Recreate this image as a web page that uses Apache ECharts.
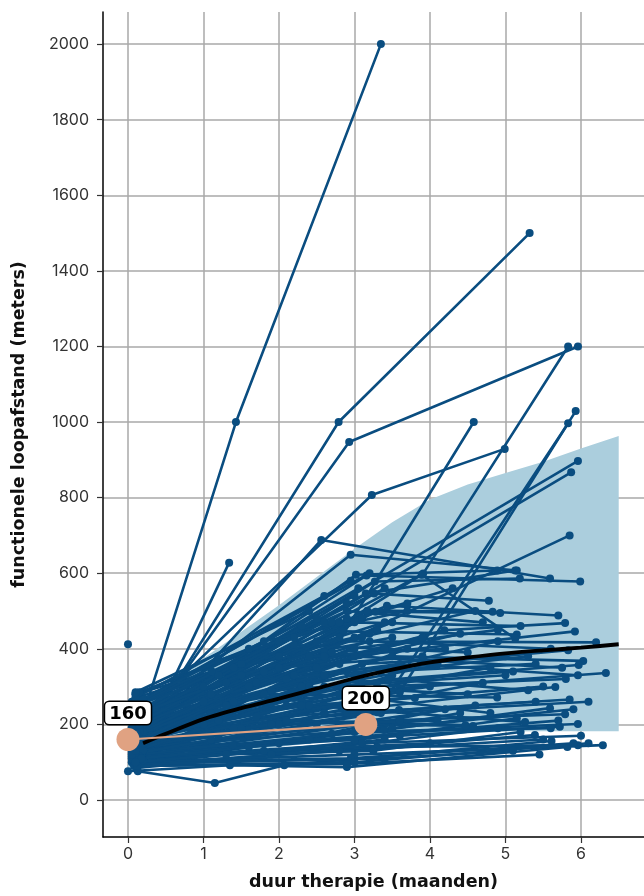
<!DOCTYPE html>
<html>
<head>
<meta charset="utf-8">
<script src="https://cdn.jsdelivr.net/npm/echarts@6/dist/echarts.min.js"></script>
<style>
  html, body { margin: 0; padding: 0; background: #fff; }
  #chart { width: 644px; height: 896px; }
</style>
</head>
<body>
<div id="chart"></div>
<script>
// Per-patient walking distance measurements: visit month and metres.
// Index i in every array belongs to the same patient; null = no such visit.
const visit0Month = [0.08,0.15,0.07,0.10,0.05,0.15,0.10,0.10,0.20,0.10, 0.15,0.10,0.15,0.10,0.10,0.00,0.12,0.05,0.18,0.10, 0.20,0.10,0.15,0.10,0.05,0.10,0.20,0.10,0.15,0.10, 0.05,0.12,0.18,0.10,0.20,0.10,0.15,0.05,0.10,0.20, 0.10,0.15,0.10,0.05,0.10,0.12,0.00,0.13,0.10,0.08, 0.10,0.10,0.15,0.10,0.05,0.20,0.10,0.15,0.10,0.05, 0.12,0.10,0.18,0.10,0.05,0.15,0.10,0.20,0.10,0.08, 0.15,0.10,0.05,0.10,0.20,0.12,0.10,0.15,0.10,0.05, 0.10,0.15,0.05,0.10,0.20,0.10,0.12,0.08,0.15,0.10, 0.05,0.10,0.18,0.10,0.15,0.10,0.05,0.12,0.10,0.20, 0.10,0.15,0.05,0.10,0.12,0.10,0.15,0.05,0.10,0.18, 0.10,0.12,0.05,0.15,0.10,0.10,0.20,0.10,0.05,0.15, 0.10,0.15,0.05,0.10,0.20,0.10,0.12,0.05,0.15,0.10, 0.10,0.18,0.05,0.10,0.15,0.10,0.05,0.12,0.10,0.20];
const visit0Meters = [150,155,150,210,130,130,200,190,170,160, 140,205,190,160,200,412,180,170,220,150, 240,120,175,230,160,200,140,250,110,185, 145,210,130,95,160,175,120,100,140,190, 90,105,130,115,95,85,76,76,110,100, 280,250,220,180,260,200,170,150,230,190, 140,210,120,160,240,100,135,180,270,200, 150,115,220,260,130,195,95,285,240,175, 120,140,110,100,130,150,170,90,115,200, 180,160,145,125,95,210,235,185,140,105, 250,195,125,175,90,155,215,135,190,110, 260,225,205,165,280,100,150,230,120,185, 220,180,250,200,160,270,230,190,240,210, 170,260,150,285,200,130,245,175,225,265];
const visit1Month = [1.43,2.79,2.93,3.23,2.56,1.34,2.95,3.91,2.30,3.60, 3.30,5.96,5.87,3.00,3.16,null,3.02,3.27,3.15,3.26, 3.43,3.17,3.28,4.19,3.06,2.85,3.89,2.50,2.20,3.50, 2.90,4.09,3.20,2.60,1.80,3.59,3.39,2.00,3.00,2.40, 1.39,2.70,2.10,3.10,2.80,1.90,1.35,1.15,3.30,3.00, 1.11,1.20,2.20,1.60,2.00,1.00,1.50,2.30,1.30,2.50, 1.70,2.80,1.40,1.00,1.80,2.00,1.20,2.60,1.50,2.10, 1.10,2.40,3.00,2.20,1.60,1.90,1.30,2.00,1.00,1.40, 3.00,2.90,3.10,2.95,3.20,3.05,3.30,3.00,3.25,3.10, 2.95,3.35,3.15,2.85,3.40,3.00,3.20,3.45,3.50,2.75, 2.90,3.00,3.35,3.10,2.90,1.20,1.10,1.50,1.70,1.60, 1.40,2.10,1.30,2.30,1.60,1.80,1.90,2.40,1.10,2.60, 3.05,2.90,3.20,2.70,3.10,2.60,3.30,2.80,3.40,2.50, 3.00,2.95,2.60,2.40,3.50,2.20,1.80,2.00,1.50,1.20];
const visit1Meters = [1000,1000,947,807,688,628,649,599,260,285, 232,897,867,430,594,null,596,578,546,546, 514,501,498,449,383,446,596,420,330,380, 310,356,290,230,280,238,185,200,158,250, 145,175,210,200,130,120,92,45,140,120, 340,330,430,300,380,260,240,300,310,350, 220,280,190,200,340,150,170,230,360,250, 230,160,330,410,170,290,120,420,300,260, 180,230,150,110,170,260,300,100,130,360, 400,340,270,200,110,470,420,320,190,140, 500,380,230,310,95,210,280,190,310,140, 350,320,250,250,400,130,200,380,160,300, 560,520,600,470,480,540,450,430,560,480, 400,580,380,500,470,270,420,350,330,370];
const visit2Month = [3.35,5.32,5.96,4.99,5.59,null,5.15,5.83,4.58,5.93, 5.83,null,null,5.85,5.99,null,4.89,5.19,5.13,4.78, 5.70,4.83,4.93,5.79,5.92,5.15,5.13,6.20,5.83,6.03, 5.97,5.96,6.33,5.66,4.89,5.85,5.59,5.79,5.15,5.26, 5.72,5.96,4.47,4.57,5.39,5.50,2.90,2.07,5.96,6.29, 3.50,3.40,4.30,3.90,4.60,2.60,3.70,4.90,2.90,4.40, 3.50,4.80,3.10,2.40,3.80,4.20,3.30,4.70,3.20,4.00, 2.80,4.40,5.30,4.50,3.60,5.00,3.40,3.70,2.30,2.60, 5.60,5.40,6.00,5.90,5.70,5.50,5.80,6.10,5.20,5.00, 4.90,5.40,4.80,4.60,5.10,5.20,5.60,5.30,5.90,4.90, 4.70,5.75,6.10,5.10,5.45,3.00,2.70,3.20,3.40,3.60, 2.60,3.60,2.90,3.80,3.00,4.00,4.10,4.20,2.50,4.50, null,null,null,null,null,null,null,null,null,null, null,null,null,null,null,null,3.70,3.90,3.10,2.80];
const visit2Meters = [2000,1500,1200,929,586,null,607,1200,1000,1029, 997,null,null,700,578,null,607,586,607,527, 488,498,495,468,446,438,427,417,396,368, 357,330,336,299,271,266,243,227,216,206, 194,201,198,196,172,160,87,92,145,145, 430,470,560,430,500,390,400,420,480,440, 330,350,260,300,420,240,280,310,440,300, 360,230,380,390,210,330,160,520,460,330, 190,260,170,150,210,300,320,150,180,380, 450,360,230,250,130,460,400,290,240,190, 470,350,260,340,120,280,390,240,400,170, 470,360,340,270,540,150,210,400,200,280, null,null,null,null,null,null,null,null,null,null, null,null,null,null,null,null,500,380,430,470];
const visit3Month = [null,null,null,null,null,null,null,null,null,null, null,null,null,null,null,null,null,null,null,null, null,null,null,null,null,null,null,null,null,null, null,null,null,null,null,null,null,null,null,null, null,null,null,null,null,null,5.82,5.61,null,null, null,null,null,null,null,null,null,null,null,null, null,null,null,null,null,null,null,null,null,null, null,null,null,null,null,null,null,null,null,4.10, null,null,null,null,null,null,null,null,null,null, null,null,null,null,null,null,null,null,null,null, null,null,null,null,null,null,null,null,null,null, null,null,null,null,null,null,null,null,null,null, null,null,null,null,null,null,null,null,null,null, null,null,null,null,null,null,null,null,null,null];
const visit3Meters = [null,null,null,null,null,null,null,null,null,null, null,null,null,null,null,null,null,null,null,null, null,null,null,null,null,null,null,null,null,null, null,null,null,null,null,null,null,null,null,null, null,null,null,null,null,null,140,156,null,null, null,null,null,null,null,null,null,null,null,null, null,null,null,null,null,null,null,null,null,null, null,null,null,null,null,null,null,null,null,360, null,null,null,null,null,null,null,null,null,null, null,null,null,null,null,null,null,null,null,null, null,null,null,null,null,null,null,null,null,null, null,null,null,null,null,null,null,null,null,null, null,null,null,null,null,null,null,null,null,null, null,null,null,null,null,null,null,null,null,null];

// Model fit: median curve and its uncertainty band
const fitMonth  = [0.2, 0.5, 1, 1.5, 2, 2.5, 3, 3.5, 4, 4.5, 5, 5.5, 6, 6.5];
const fitMedian = [150, 175, 214, 243, 268, 295, 322, 345, 364, 377, 388, 396, 403, 412];
const bandMonth = [0, 0.5, 1, 1.5, 2, 2.5, 3, 3.5, 4, 4.5, 5, 5.5, 6, 6.5];
const bandUpper = [230, 300, 375, 445, 515, 590, 665, 735, 795, 835, 865, 895, 930, 963];
const bandLower = [75, 95, 112, 128, 140, 152, 162, 170, 176, 179, 181, 182, 182, 182];

// Highlighted typical patient
const typicalMonth  = [0, 3.15];
const typicalMeters = [160, 200];

// Axis ticks
const xTicks = [0, 1, 2, 3, 4, 5, 6];
const yTicks = [0, 200, 400, 600, 800, 1000, 1200, 1400, 1600, 1800, 2000];

const BLUE = '#0a4d80';
const TICK_FONT = 'Inter';
const TITLE_FONT = 'DejaVu Sans';

const visits = [
  [visit0Month, visit0Meters],
  [visit1Month, visit1Meters],
  [visit2Month, visit2Meters],
  [visit3Month, visit3Meters]
];

const patientSeries = visit0Month.map((_, i) => ({
  type: 'line',
  data: visits.filter(([m]) => m[i] != null).map(([m, w]) => [m[i], w[i]]),
  symbol: 'circle',
  symbolSize: 8,
  showSymbol: true,
  lineStyle: { color: BLUE, width: 2.6 },
  itemStyle: { color: BLUE },
  z: 3,
  silent: true,
  animation: false
}));

const bandSeries = {
  type: 'custom',
  z: 1,
  silent: true,
  animation: false,
  data: [[0, 0]],
  renderItem: (params, api) => {
    const pts = [];
    for (let i = 0; i < bandMonth.length; i++) pts.push(api.coord([bandMonth[i], bandUpper[i]]));
    for (let i = bandMonth.length - 1; i >= 0; i--) pts.push(api.coord([bandMonth[i], bandLower[i]]));
    return { type: 'polygon', shape: { points: pts }, style: { fill: '#abcedd' } };
  }
};

const medianSeries = {
  type: 'line',
  data: fitMonth.map((m, i) => [m, fitMedian[i]]),
  symbol: 'none',
  smooth: 0.3,
  lineStyle: { color: '#000', width: 3.8 },
  z: 6,
  silent: true,
  animation: false
};

const typicalSeries = {
  type: 'line',
  data: typicalMonth.map((m, i) => [m, typicalMeters[i]]),
  symbol: 'circle',
  symbolSize: 23,
  lineStyle: { color: '#e0a282', width: 2.2 },
  itemStyle: { color: '#e0a282' },
  label: {
    show: true,
    position: 'top',
    distance: 4,
    formatter: p => String(p.value[1]),
    fontFamily: TITLE_FONT,
    fontWeight: 'bold',
    fontSize: 18,
    color: '#000',
    backgroundColor: '#fff',
    borderColor: '#000',
    borderWidth: 1.5,
    borderRadius: 4,
    padding: [3, 4, 1, 4]
  },
  z: 8,
  silent: true,
  animation: false
};

const chart = echarts.init(document.getElementById('chart'), null, { renderer: 'canvas' });
chart.setOption({
  animation: false,
  backgroundColor: '#fff',
  grid: { left: 103, right: 0, top: 12, bottom: 57, containLabel: false },
  xAxis: {
    type: 'value',
    min: -0.331,
    max: 6.835,
    name: 'duur therapie (maanden)',
    nameLocation: 'middle',
    nameGap: 36,
    nameTextStyle: { fontFamily: TITLE_FONT, fontWeight: 'bold', fontSize: 17.5, color: '#111' },
    axisLine: { show: true, onZero: false, lineStyle: { color: '#000', width: 1.5 } },
    axisTick: { show: true, customValues: xTicks, length: 6, lineStyle: { color: '#333', width: 1.2 } },
    axisLabel: { customValues: xTicks, formatter: v => String(v), fontFamily: TICK_FONT, fontSize: 16, color: '#333', margin: 9 },
    splitLine: { show: true, lineStyle: { color: '#a8a8a8', width: 1.5 } }
  },
  yAxis: {
    type: 'value',
    min: -98,
    max: 2085,
    name: 'functionele loopafstand (meters)',
    nameLocation: 'middle',
    nameGap: 75,
    nameTextStyle: { fontFamily: TITLE_FONT, fontWeight: 'bold', fontSize: 17.5, color: '#111' },
    axisLine: { show: true, onZero: false, lineStyle: { color: '#000', width: 1.5 } },
    axisTick: { show: true, customValues: yTicks, length: 6, lineStyle: { color: '#333', width: 1.2 } },
    axisLabel: { customValues: yTicks, formatter: v => String(v), fontFamily: TICK_FONT, fontSize: 16, color: '#333', margin: 14 },
    splitLine: { show: true, lineStyle: { color: '#a8a8a8', width: 1.5 } }
  },
  series: [bandSeries, ...patientSeries, medianSeries, typicalSeries]
});
</script>
</body>
</html>
